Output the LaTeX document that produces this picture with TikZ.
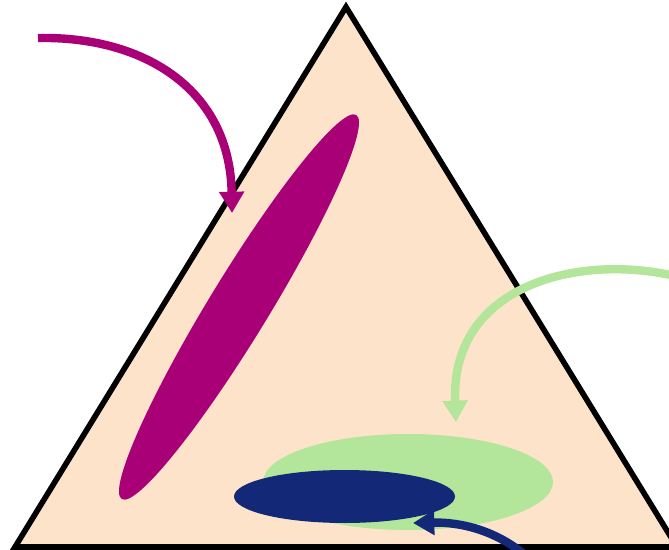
\documentclass[tikz,border=0pt]{standalone}
\usetikzlibrary{arrows.meta}
\definecolor{peach}{HTML}{FDE3CA}
\definecolor{magen}{HTML}{AA0077}
\definecolor{lgreen}{HTML}{B3E69A}
\definecolor{navy}{HTML}{142878}
\tikzset{
  px/.style={x=0.75pt,y=-0.75pt},
  pointer/.style={line width=6.3pt,-{Triangle[length=16pt,width=18pt]}},
}
\begin{document}
\begin{tikzpicture}[px]
\useasboundingbox (0,0) rectangle (669,550);
\clip (0,0) rectangle (669,550);
% triangle
\coordinate (A) at (346,7);
\coordinate (B) at (15,547);
\coordinate (C) at (677,547);
\draw[fill=peach,line width=4.2pt] (A) -- (B) -- (C) -- cycle;
% ellipses
\fill[magen,rotate around={58.6:(239,307)}] (239,307) ellipse [x radius=225, y radius=30];
\fill[lgreen] (408,482) ellipse [x radius=145, y radius=48];
\fill[navy] (344.5,496.5) ellipse [x radius=110.5, y radius=26.5];
% arrows
\coordinate (m0) at (38,38);
\coordinate (m1) at (232,213);
\draw[pointer,magen] (m0) .. controls (145,36) and (230,90) .. (m1);
\coordinate (g0) at (690,280);
\coordinate (g1) at (456,422);
\draw[pointer,lgreen] (g0) .. controls (590,250) and (450,280) .. (g1);
\coordinate (n0) at (525,555);
\coordinate (n1) at (413,523);
\draw[pointer,navy] (n0) .. controls (495,530) and (460,522) .. (n1);
\end{tikzpicture}
\end{document}
